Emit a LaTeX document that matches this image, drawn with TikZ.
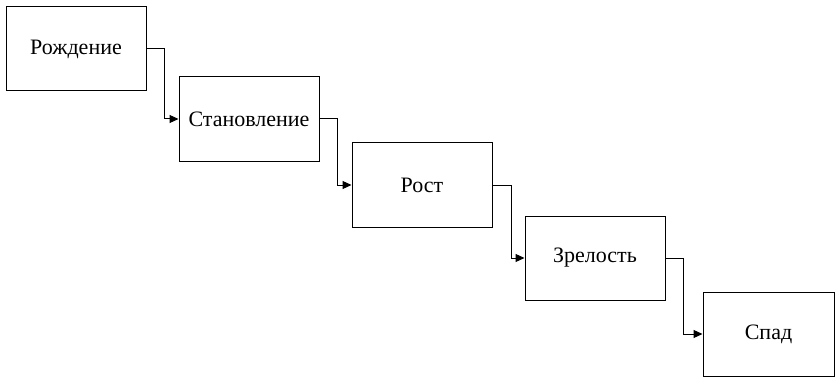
\documentclass[tikz,border=0pt]{standalone}
\usepackage{fontspec}
\setmainfont{Liberation Serif}
\newfontfamily\stagefont{Liberation Serif}
\usetikzlibrary{arrows.meta}

\begin{document}
\begin{tikzpicture}[x=1pt, y=-1pt,
	stage/.style={draw, line width=1pt, minimum width=140pt, minimum height=84pt, inner sep=0pt, font=\stagefont\fontsize{22}{26}\selectfont},
	flow/.style={-{Triangle[length=9pt, width=8pt]}, line width=1pt}]
	\useasboundingbox (0,0) rectangle (835,377);
	%
	\node[stage] (birth) at (76,49) {Рождение};
	\node[stage] (forming) at (249,119) {Становление};
	\node[stage] (growth) at (422,185) {Рост};
	\node[stage] (maturity) at (595,258) {Зрелость};
	\node[stage, minimum width=131pt] (decline) at (768.5,334) {Спад};
	%
	\draw[flow] (birth.east) -- ++(18,0) |- (forming.west);
	\draw[flow] (forming.east) -- ++(18,0) |- (growth.west);
	\draw[flow] (growth.east) -- ++(19,0) |- (maturity.west);
	\draw[flow] (maturity.east) -- ++(18,0) |- (decline.west);
\end{tikzpicture}
\end{document}
